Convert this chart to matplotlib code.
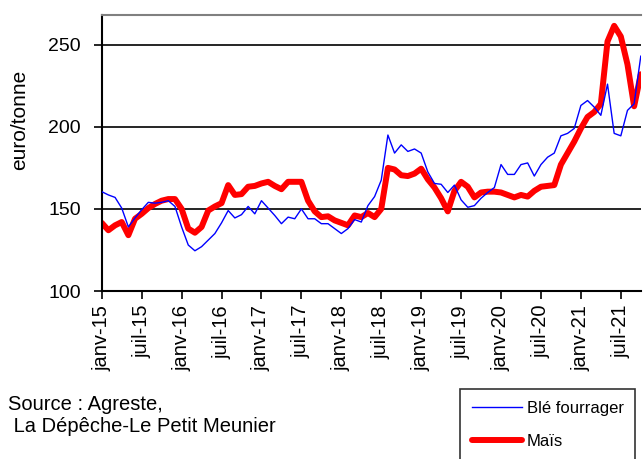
import matplotlib
matplotlib.use("Agg")
import matplotlib.pyplot as plt
import numpy as np

plt.rcParams['font.family'] = ['Liberation Sans', 'DejaVu Sans']

# monthly prices, janv-15 .. oct-21 (euro/tonne)
ble_fourrager = [
    160.5, 158.5, 157, 150.5, 139, 144.5, 149.5, 154, 153.5, 154, 155, 151.5,
    139, 128, 124.5, 127, 131, 135, 141.5, 149, 144.5, 146.5, 151.5, 147,
    155, 150.5, 146, 141, 145, 144, 150, 144, 144, 141, 141, 138,
    135, 138, 143.5, 142, 152, 157.5, 167.5, 195, 184, 189, 185, 186.5,
    184, 172.5, 165.5, 165, 160, 164.5, 155.5, 151, 152, 156.5, 160, 163,
    177, 171, 171, 177, 178, 170, 177, 181.5, 184, 194.5, 196, 199,
    213, 216, 212, 207, 226, 196, 194.5, 210, 214, 243,
]
mais = [
    141.5, 137, 140, 142, 134, 144, 147, 150.5, 153, 155, 156, 156,
    150, 138, 135.5, 139, 149, 151.5, 153.5, 164.5, 158.5, 159, 163.5, 164,
    165.5, 166.5, 164, 162, 166.5, 166.5, 166.5, 155, 148.5, 145, 145.5, 143,
    141.5, 140, 146, 145, 147.5, 145, 150, 175, 174, 170.5, 170, 171.5,
    174.5, 168, 163, 156.5, 148.5, 161, 166.5, 163.5, 157, 160, 160.5, 160.5,
    160, 158.5, 157, 158.5, 157.5, 161, 163.5, 164, 164.5, 177, 184, 191,
    199, 206, 209, 214, 252, 261.5, 255, 238, 212.5, 232,
]
tick_labels = ['janv-15', 'juil-15', 'janv-16', 'juil-16', 'janv-17', 'juil-17',
               'janv-18', 'juil-18', 'janv-19', 'juil-19', 'janv-20', 'juil-20',
               'janv-21', 'juil-21']
y_ticks = [100, 150, 200, 250]

months = np.arange(len(ble_fourrager))

fig = plt.figure(figsize=(6.44, 4.59), dpi=100)
ax = fig.add_axes([0.158, 0.366, 0.837, 0.601])

# horizontal grid lines
for y in y_ticks[1:]:
    ax.axhline(y, color='black', linewidth=1.2, zorder=1)

ax.plot(months, ble_fourrager, color='#0000FF', linewidth=1.0, label='Blé fourrager', zorder=3)
ax.plot(months, mais, color='#FF0000', linewidth=4.3, label='Maïs',
        solid_capstyle='round', solid_joinstyle='round', zorder=2)

ax.set_xlim(0, len(months) - 1)
ax.set_ylim(100, 268)
ax.set_yticks(y_ticks)
ax.set_xticks(np.arange(len(tick_labels)) * 6)
ax.set_xticklabels(tick_labels, rotation=90, fontsize=14.5)
ax.tick_params(axis='y', labelsize=14, length=6, width=1.2, direction='out', pad=9)
ax.tick_params(axis='x', length=6, width=1.2, direction='out', pad=4)
ax.set_ylabel('euro/tonne', fontsize=15)
ax.yaxis.set_label_coords(-0.135, 0.62)

ax.spines['right'].set_visible(False)
ax.spines['top'].set_color('#808080')
ax.spines['top'].set_linewidth(1.5)
ax.spines['left'].set_linewidth(1.5)
ax.spines['bottom'].set_linewidth(1.5)

fig.text(0.012, 1 - 405 / 459, 'Source : Agreste,', fontsize=14.5, ha='left', va='center')
fig.text(0.012, 1 - 427 / 459, ' La Dépêche-Le Petit Meunier', fontsize=14.5, ha='left', va='center')

leg = fig.legend(loc='upper left', bbox_to_anchor=(460 / 644, 1 - 389 / 459),
                 frameon=True, fancybox=False, fontsize=12, handlelength=3.0,
                 handletextpad=0.3, labelspacing=1.1, borderpad=0.7,
                 borderaxespad=0)
leg.get_frame().set_edgecolor('black')
leg.get_frame().set_linewidth(1.2)

fig.savefig('out.png', dpi=100)
